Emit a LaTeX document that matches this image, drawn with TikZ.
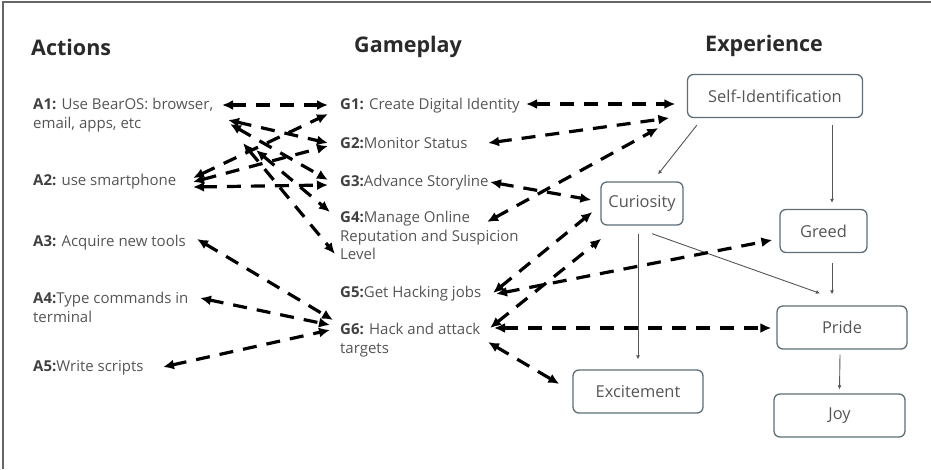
\documentclass[tikz,border=0pt]{standalone}
\usepackage{fontspec}
\setmainfont{Open Sans}
\usetikzlibrary{arrows.meta}
\definecolor{txtc}{HTML}{555555}
\definecolor{prec}{HTML}{404040}
\definecolor{ttlc}{HTML}{2A2A2A}
\definecolor{boxc}{HTML}{5E6D78}
\definecolor{linec}{HTML}{555555}
\definecolor{framec}{HTML}{666666}
\newcommand{\pre}[1]{\textbf{\color{prec}#1}}
\begin{document}
\begin{tikzpicture}[x=1pt,y=-1pt,
  lbl/.style={anchor=north west, inner sep=0pt, align=left, font=\fontsize{15}{18.5}\selectfont, text=txtc},
  ttl/.style={anchor=west, inner sep=0pt, font=\fontsize{21.5}{25}\selectfont\bfseries, text=ttlc},
  ebox/.style={draw=boxc, line width=1.3pt, rounded corners=6pt, minimum height=43pt, inner sep=0pt, font=\fontsize{16.4}{19}\selectfont, text=txtc},
  darr/.style={{Latex[length=11pt,width=10pt]}-{Latex[length=11pt,width=10pt]}, line width=3.2pt, dash pattern=on 14pt off 10pt, black},
  sarr/.style={-{Latex[length=4pt,width=4pt]}, line width=0.9pt, draw=linec}]
\useasboundingbox (0,0) rectangle (931,469);
\draw[framec, line width=1.2pt] (3,469) -- (3,2) -- (931,2);

% titles
\node[ttl] (tA) at (31,47) {Actions};
\node[ttl] (tG) at (354,47) {Gameplay};
\node[ttl] (tE) at (705,46) {Experience};

% actions
\node[lbl] (A1) at (33,98) {\pre{A1:} Use BearOS: browser,\\ email, apps, etc};
\node[lbl] (A2) at (33,174) {\pre{A2:} use smartphone};
\node[lbl] (A3) at (33,235) {\pre{A3:} Acquire new tools};
\node[lbl] (A4) at (33,292) {\pre{A4:}Type commands in\\ terminal};
\node[lbl] (A5) at (33,360) {\pre{A5:}Write scripts};

% gameplay
\node[lbl] (G1) at (340,98) {\pre{G1:} Create Digital Identity};
\node[lbl] (G2) at (340,137) {\pre{G2:}Monitor Status};
\node[lbl] (G3) at (340,175) {\pre{G3:}Advance Storyline};
\node[lbl] (G4) at (340,211) {\pre{G4:}Manage Online\\ Reputation and Suspicion\\ Level};
\node[lbl] (G5) at (340,286) {\pre{G5:}Get Hacking jobs};
\node[lbl] (G6) at (340,323) {\pre{G6:} Hack and attack\\ targets};

% experience
\node[ebox, minimum width=175pt] (SI) at (775,96) {Self-Identification};
\node[ebox, minimum width=82pt] (Cur) at (642,203.5) {Curiosity};
\node[ebox, minimum width=87pt] (Gr) at (823.5,231) {Greed};
\node[ebox, minimum width=130pt] (Pr) at (842,327.5) {Pride};
\node[ebox, minimum width=130pt] (Ex) at (638,391.5) {Excitement};
\node[ebox, minimum width=131pt] (Joy) at (839.5,415.5) {Joy};

% solid arrows
\draw[sarr] ([shift={(10,7)}]SI.south west) -- ([shift={(16,-7)}]Cur.north);
\draw[sarr] ([shift={(57,7)}]SI.south) -- ([shift={(8.5,-6)}]Gr.north);
\draw[sarr] ([shift={(10,8)}]Cur.south) -- ([shift={(-22,-12)}]Pr.north);
\draw[sarr] ([shift={(-4,8)}]Cur.south) -- ([shift={(0,-10)}]Ex.north);
\draw[sarr] ([shift={(8.5,10)}]Gr.south) -- ([shift={(-10,-11)}]Pr.north);
\draw[sarr] ([shift={(-2,5)}]Pr.south) -- ([shift={(0,-4)}]Joy.north);

% dashed arrows: actions <-> gameplay
\draw[darr] ([shift={(189,7)}]A1.north west) -- ([shift={(-12,7)}]G1.north west);
\draw[darr] ([shift={(195,22)}]A1.north west) -- ([shift={(-12,6)}]G2.north west);
\draw[darr] ([shift={(197,26)}]A1.north west) -- ([shift={(-12,5)}]G3.north west);
\draw[darr] ([shift={(223,52)}]A1.north west) -- ([shift={(-10,1)}]G4.north west);
\draw[darr] ([shift={(210,45)}]A1.north west) -- ([shift={(-5,43)}]G4.north west);
\draw[darr] ([shift={(160,4)}]A2.north west) -- ([shift={(-12,16)}]G1.north west);
\draw[darr] ([shift={(160,8)}]A2.north west) -- ([shift={(-12,9)}]G2.north west);
\draw[darr] ([shift={(160,13)}]A2.north west) -- ([shift={(-12,10)}]G3.north west);
\draw[darr] ([shift={(164,4)}]A3.north west) -- ([shift={(-7,-3)}]G6.north west);
\draw[darr] ([shift={(167,6)}]A4.north west) -- ([shift={(-10,2)}]G6.north west);
\draw[darr] ([shift={(130,7)}]A5.north west) -- ([shift={(-10,7)}]G6.north west);

% dashed arrows: gameplay <-> experience
\draw[darr] ([shift={(186,6)}]G1.north west) -- ([shift={(-11.5,8)}]SI.west);
\draw[darr] ([shift={(148,6)}]G2.north west) -- ([shift={(-17.5,22)}]SI.west);
\draw[darr] ([shift={(147,11)}]G4.north west) -- ([shift={(-28.5,32)}]SI.west);
\draw[darr] ([shift={(150,7)}]G3.north west) -- ([shift={(-9,-3.5)}]Cur.west);
\draw[darr] ([shift={(153,7)}]G5.north west) -- ([shift={(-8,8.5)}]Cur.west);
\draw[darr] ([shift={(150,5)}]G6.north west) -- ([shift={(1,13)}]Cur.south west);
\draw[darr] ([shift={(156,8)}]G5.north west) -- ([shift={(-7,9)}]Gr.west);
\draw[darr] ([shift={(154,5)}]G6.north west) -- ([shift={(-5,0.5)}]Pr.west);
\draw[darr] ([shift={(148,19)}]G6.north west) -- ([shift={(-13,-7.5)}]Ex.west);
\end{tikzpicture}
\end{document}
